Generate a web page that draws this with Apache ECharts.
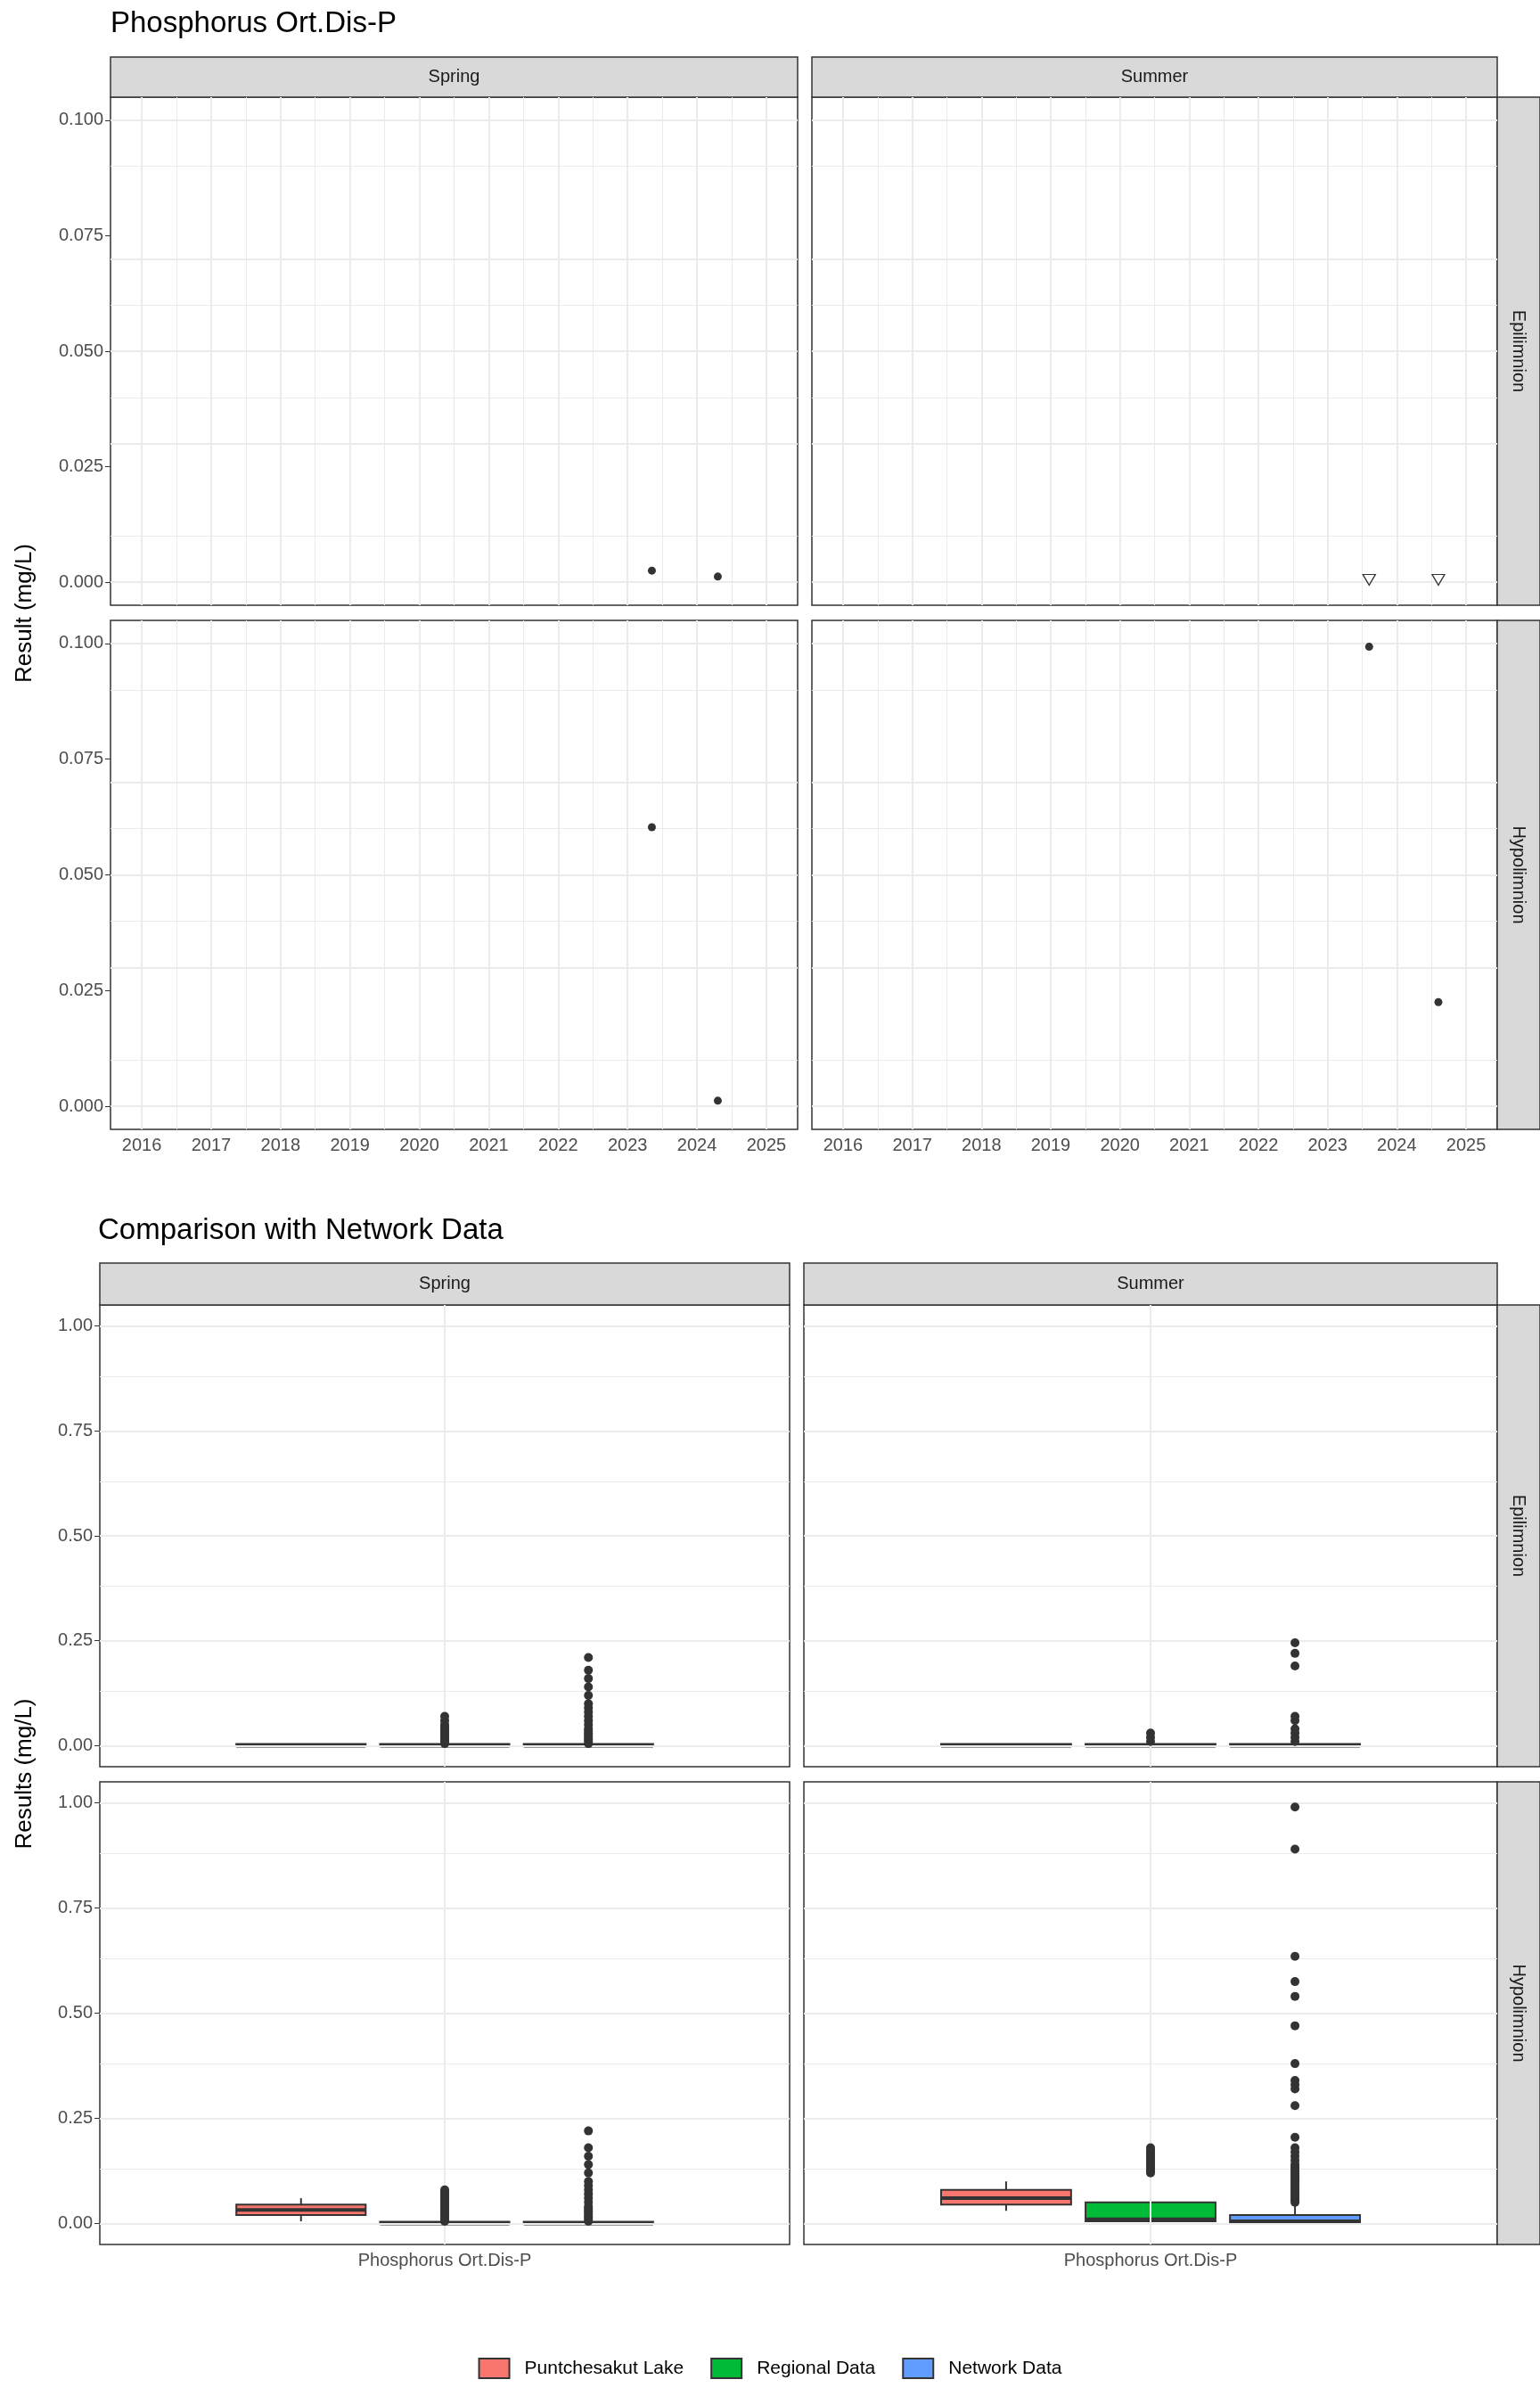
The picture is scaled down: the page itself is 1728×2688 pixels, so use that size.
<!DOCTYPE html>
<html>
<head>
<meta charset="utf-8">
<script src="https://cdn.jsdelivr.net/npm/echarts@6/dist/echarts.min.js"></script>
<style>body{margin:0;background:#fff}#chart{width:1728px;height:2688px}</style>
</head>
<body>
<div id="chart"></div>
<script>
// ---- data ----
var seasons = ['Spring', 'Summer'];
var layers = ['Epilimnion', 'Hypolimnion'];
var yearTicks = [2016, 2017, 2018, 2019, 2020, 2021, 2022, 2023, 2024, 2025];
var resultTicks = [0, 0.025, 0.05, 0.075, 0.1];
var compareTicks = [0, 0.25, 0.5, 0.75, 1.0];
var groups = ['Puntchesakut Lake', 'Regional Data', 'Network Data'];
var groupColors = ['#F8766D', '#00BA38', '#619CFF'];
var groupPos = [0.75, 1.0, 1.25];

// time series points [year, value]; order: Spring-Epi, Summer-Epi, Spring-Hypo, Summer-Hypo
var detectPts = [
  [[2023.35, 0.0025], [2024.3, 0.0012]],
  [],
  [[2023.35, 0.0603], [2024.3, 0.0012]],
  [[2023.6, 0.0993], [2024.6, 0.0225]]
];
var belowDetectPts = [[], [[2023.6, 0.0005], [2024.6, 0.0005]], [], []];

// box stats [low, q1, median, q3, high] per panel per group
var boxStats = [
  [[0, 0, 0, 0, 0], [0, 0, 0, 0, 0.001], [0, 0, 0, 0, 0.001]],
  [[0, 0, 0, 0, 0], [0, 0, 0, 0, 0.001], [0, 0, 0, 0, 0.001]],
  [[0.005, 0.02, 0.032, 0.045, 0.06], [0, 0, 0, 0, 0.001], [0, 0, 0, 0, 0.001]],
  [[0.03, 0.045, 0.06, 0.08, 0.1], [0, 0.005, 0.01, 0.05, 0.115], [0, 0, 0.005, 0.02, 0.045]]
];
var outliers = [
  [[], [0.005, 0.01, 0.015, 0.02, 0.025, 0.03, 0.035, 0.04, 0.045, 0.05, 0.06, 0.07],
      [0.005, 0.01, 0.015, 0.02, 0.025, 0.03, 0.035, 0.04, 0.05, 0.06, 0.07, 0.08, 0.09, 0.1, 0.12, 0.14, 0.16, 0.18, 0.21]],
  [[], [0.01, 0.02, 0.03], [0.01, 0.02, 0.03, 0.04, 0.06, 0.07, 0.19, 0.22, 0.245]],
  [[], [0.005, 0.01, 0.015, 0.02, 0.025, 0.03, 0.035, 0.04, 0.045, 0.05, 0.055, 0.06, 0.065, 0.07, 0.075, 0.08],
      [0.005, 0.01, 0.015, 0.02, 0.025, 0.03, 0.035, 0.04, 0.05, 0.06, 0.07, 0.08, 0.09, 0.1, 0.12, 0.14, 0.16, 0.18, 0.22]],
  [[], [0.12, 0.125, 0.13, 0.135, 0.14, 0.145, 0.15, 0.155, 0.16, 0.165, 0.17, 0.175, 0.18],
      [0.05, 0.055, 0.06, 0.065, 0.07, 0.075, 0.08, 0.085, 0.09, 0.095, 0.1, 0.105, 0.11, 0.115, 0.12, 0.125, 0.13, 0.135, 0.14, 0.15, 0.16, 0.17, 0.18, 0.205, 0.28, 0.32, 0.33, 0.34, 0.38, 0.47, 0.54, 0.575, 0.635, 0.89, 0.99]]
];

// ---- layout ----
var topCols = [[124, 771], [911, 769]];
var topRows = [[109, 570], [696, 571]];
var botCols = [[112, 774], [902, 778]];
var botRows = [[1464, 518], [1999, 519]];
var txt = '#4D4D4D';
var FF = 'Liberation Sans, Arial, sans-serif';

var grids = [], xAxes = [], yAxes = [], series = [], graphics = [];

function gridLines(axis, vals, minor) {
  var d = [];
  vals.forEach(function (v) { var o = {}; o[axis] = v; d.push(o); });
  return { silent: true, symbol: 'none', label: { show: false }, animation: false,
    lineStyle: { color: '#EBEBEB', width: minor ? 1 : 2, type: 'solid' }, data: d };
}
function halfSteps(t) {
  var r = [];
  for (var i = 0; i < t.length - 1; i++) r.push((t[i] + t[i + 1]) / 2);
  return r;
}

function strip(x, y, w, h, text, rot) {
  graphics.push({ type: 'rect', shape: { x: x, y: y, width: w, height: h },
    style: { fill: '#D9D9D9', stroke: '#333', lineWidth: 1.5 } });
  graphics.push({ type: 'text', x: x + w / 2, y: y + h / 2, rotation: rot || 0,
    style: { text: text, font: '20px ' + FF, fill: '#1A1A1A', align: 'center', verticalAlign: 'middle' } });
}

// top facet panels
for (var r = 0; r < 2; r++) {
  for (var c = 0; c < 2; c++) {
    var p = r * 2 + c, gi = grids.length;
    grids.push({ left: topCols[c][0], top: topRows[r][0], width: topCols[c][1], height: topRows[r][1],
      show: true, borderColor: '#333', borderWidth: 1.5, backgroundColor: '#fff' });
    xAxes.push({ type: 'value', gridIndex: gi, min: 2015.55, max: 2025.45,
      axisLine: { show: false }, splitLine: { show: false },
      axisTick: { show: r === 1, customValues: yearTicks, length: 6, lineStyle: { color: '#333' } },
      axisLabel: { show: r === 1, customValues: yearTicks, color: txt, fontSize: 20, fontFamily: FF, margin: 8,
        formatter: function (v) { return String(Math.round(v)); } } });
    yAxes.push({ type: 'value', gridIndex: gi, min: -0.005, max: 0.105,
      axisLine: { show: false }, splitLine: { show: false },
      axisTick: { show: c === 0, customValues: resultTicks, length: 6, lineStyle: { color: '#333' } },
      axisLabel: { show: c === 0, customValues: resultTicks, color: txt, fontSize: 20, fontFamily: FF, margin: 8,
        formatter: function (v) { return v.toFixed(3); } } });
    series.push({ type: 'line', xAxisIndex: gi, yAxisIndex: gi, data: [], silent: true,
      markLine: gridLines('yAxis', halfSteps(resultTicks), true) });
    series.push({ type: 'line', xAxisIndex: gi, yAxisIndex: gi, data: [], silent: true,
      markLine: gridLines('xAxis', yearTicks.map(function (y) { return y + 0.5; }).slice(0, 9), true) });
    series.push({ type: 'line', xAxisIndex: gi, yAxisIndex: gi, data: [], silent: true,
      markLine: gridLines('yAxis', resultTicks, false) });
    series.push({ type: 'line', xAxisIndex: gi, yAxisIndex: gi, data: [], silent: true,
      markLine: gridLines('xAxis', yearTicks, false) });
    series.push({ type: 'scatter', xAxisIndex: gi, yAxisIndex: gi, data: detectPts[p], symbolSize: 9,
      itemStyle: { color: '#000' }, z: 5 });
    series.push({ type: 'scatter', xAxisIndex: gi, yAxisIndex: gi, data: belowDetectPts[p],
      symbol: 'path://M0,0L10,0L5,9Z', symbolSize: [14, 12],
      itemStyle: { color: 'rgba(0,0,0,0)', borderColor: '#000', borderWidth: 1.3 }, z: 5 });
  }
}

// bottom comparison panels
for (var r2 = 0; r2 < 2; r2++) {
  for (var c2 = 0; c2 < 2; c2++) {
    var q = r2 * 2 + c2, gj = grids.length;
    grids.push({ left: botCols[c2][0], top: botRows[r2][0], width: botCols[c2][1], height: botRows[r2][1],
      show: true, borderColor: '#333', borderWidth: 1.5, backgroundColor: '#fff' });
    xAxes.push({ type: 'value', gridIndex: gj, min: 0.4, max: 1.6,
      axisLine: { show: false }, splitLine: { show: false },
      axisTick: { show: r2 === 1, customValues: [1], length: 6, lineStyle: { color: '#333' } },
      axisLabel: { show: r2 === 1, customValues: [1], color: txt, fontSize: 20, fontFamily: FF, margin: 8,
        formatter: function () { return 'Phosphorus Ort.Dis-P'; } } });
    yAxes.push({ type: 'value', gridIndex: gj, min: -0.05, max: 1.05,
      axisLine: { show: false }, splitLine: { show: false },
      axisTick: { show: c2 === 0, customValues: compareTicks, length: 6, lineStyle: { color: '#333' } },
      axisLabel: { show: c2 === 0, customValues: compareTicks, color: txt, fontSize: 20, fontFamily: FF, margin: 8,
        formatter: function (v) { return v.toFixed(2); } } });
    series.push({ type: 'line', xAxisIndex: gj, yAxisIndex: gj, data: [], silent: true,
      markLine: gridLines('yAxis', halfSteps(compareTicks), true) });
    series.push({ type: 'line', xAxisIndex: gj, yAxisIndex: gj, data: [], silent: true,
      markLine: gridLines('yAxis', compareTicks, false) });
    series.push({ type: 'line', xAxisIndex: gj, yAxisIndex: gj, data: [], silent: true,
      markLine: gridLines('xAxis', [1], false) });
    for (var g = 0; g < 3; g++) {
      var s = boxStats[q][g];
      series.push({ type: 'custom', name: groups[g], xAxisIndex: gj, yAxisIndex: gj, z: 4, silent: true,
        itemStyle: { color: groupColors[g], borderColor: '#333' },
        data: [[groupPos[g]].concat(s)],
        renderItem: (function (col) {
          return function (params, api) {
            var x = api.value(0), w = api.size([0.225, 0])[0];
            var lo = api.coord([x, api.value(1)]), q1 = api.coord([x, api.value(2)]),
                md = api.coord([x, api.value(3)]), q3 = api.coord([x, api.value(4)]),
                hi = api.coord([x, api.value(5)]);
            var dark = { fill: '#333', stroke: null };
            var h = Math.max(q1[1] - q3[1], 2);
            return { type: 'group', children: [
              { type: 'rect', shape: { x: lo[0] - 1, y: q1[1], width: 2, height: Math.max(lo[1] - q1[1], 0) }, style: dark },
              { type: 'rect', shape: { x: hi[0] - 1, y: hi[1], width: 2, height: Math.max(q3[1] - hi[1], 0) }, style: dark },
              { type: 'rect', shape: { x: q1[0] - w / 2, y: q1[1] - h, width: w, height: h },
                style: { fill: col, stroke: '#333', lineWidth: 2 } },
              { type: 'rect', shape: { x: md[0] - w / 2, y: md[1] - 2, width: w, height: 4 }, style: dark }
            ] };
          };
        })(groupColors[g])
      });
      series.push({ type: 'scatter', xAxisIndex: gj, yAxisIndex: gj, z: 5, symbolSize: 10,
        itemStyle: { color: '#333', opacity: 1 },
        data: outliers[q][g].map(function (v) { return [groupPos[g], v]; }) });
    }
  }
}

// strips
strip(124, 64, 771, 45, 'Spring');
strip(911, 64, 769, 45, 'Summer');
strip(1680, 109, 48, 570, 'Epilimnion', -Math.PI / 2);
strip(1680, 696, 48, 571, 'Hypolimnion', -Math.PI / 2);
strip(112, 1417, 774, 47, 'Spring');
strip(902, 1417, 778, 47, 'Summer');
strip(1680, 1464, 48, 518, 'Epilimnion', -Math.PI / 2);
strip(1680, 1999, 48, 519, 'Hypolimnion', -Math.PI / 2);

// titles
graphics.push({ type: 'text', left: 124, top: 10, style: { text: 'Phosphorus Ort.Dis-P', font: '33px ' + FF, fill: '#000' } });
graphics.push({ type: 'text', left: 110, top: 1364, style: { text: 'Comparison with Network Data', font: '33px ' + FF, fill: '#000' } });
graphics.push({ type: 'text', x: 28, y: 688, rotation: Math.PI / 2, style: { text: 'Result (mg/L)', font: '26px ' + FF, fill: '#000', align: 'center', verticalAlign: 'middle' } });
graphics.push({ type: 'text', x: 28, y: 1990, rotation: Math.PI / 2, style: { text: 'Results (mg/L)', font: '26px ' + FF, fill: '#000', align: 'center', verticalAlign: 'middle' } });

var chart = echarts.init(document.getElementById('chart'));
chart.setOption({
  animation: false,
  backgroundColor: '#fff',
  grid: grids, xAxis: xAxes, yAxis: yAxes, series: series, graphic: graphics,
  legend: { data: groups, top: 2640, left: 'center', itemGap: 30, itemWidth: 34, itemHeight: 22,
    icon: 'rect', textStyle: { fontSize: 21, fontFamily: FF, color: '#000', padding: [0, 0, 0, 12] },
    itemStyle: { borderColor: '#333', borderWidth: 2 } }
});
</script>
</body>
</html>
